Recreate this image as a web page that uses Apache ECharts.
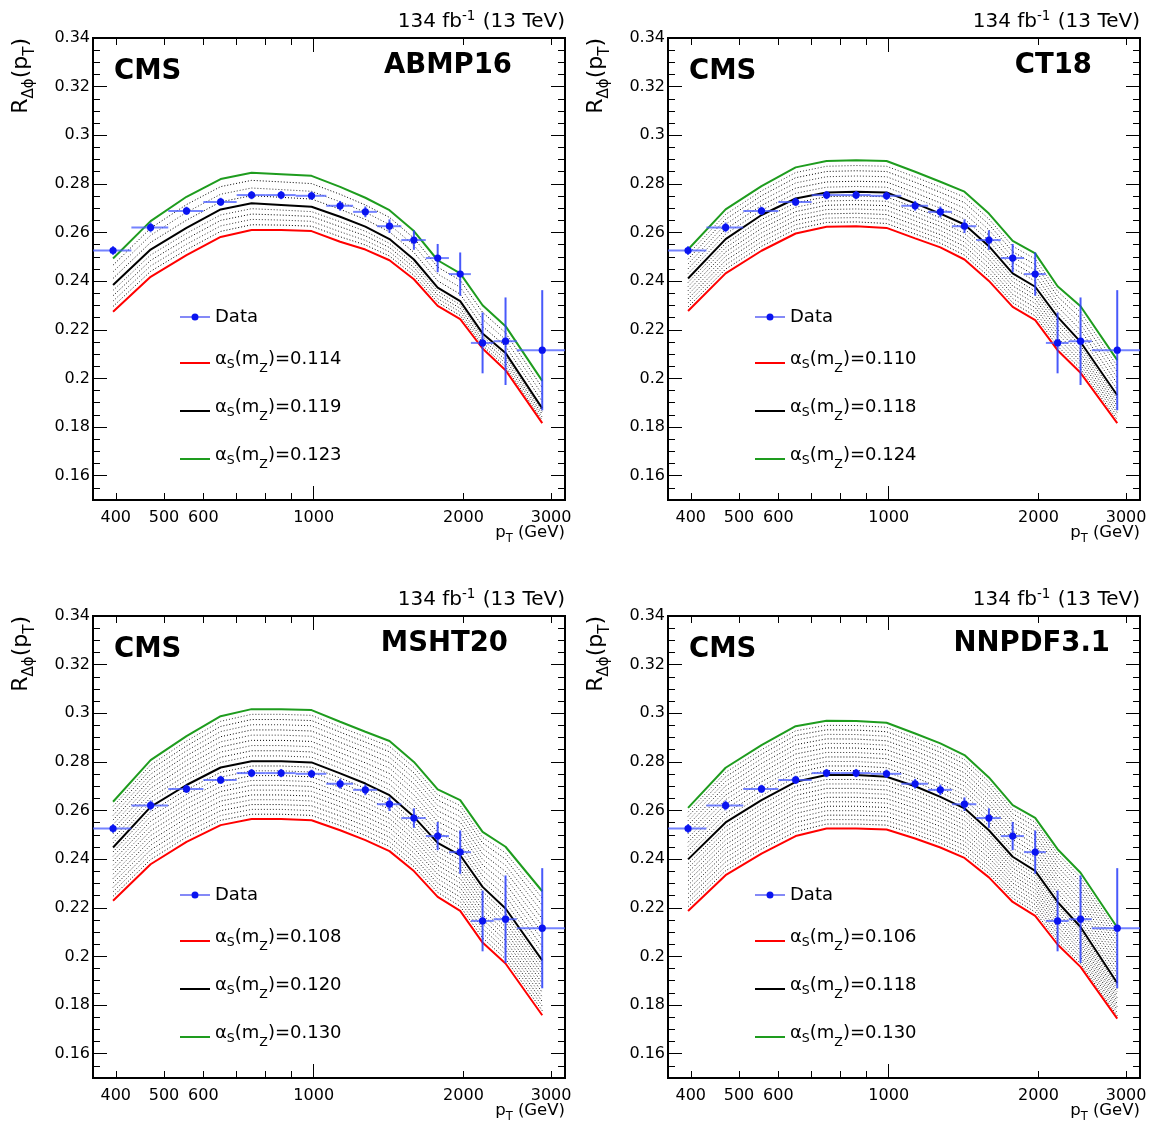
<!DOCTYPE html>
<html><head><meta charset="utf-8">
<script src="https://cdn.jsdelivr.net/npm/echarts@6/dist/echarts.min.js"></script>
<style>html,body{margin:0;padding:0;background:#fff}#c{width:1151px;height:1126px}</style>
</head><body><div id="c"></div><script>
// ---------------- data ----------------
const binCenters = [395, 470, 555, 650, 750, 860, 990, 1130, 1270, 1420, 1590, 1775, 1970, 2185, 2430, 2880];
const binEdges   = [360, 430, 510, 600, 700, 800, 920, 1060, 1200, 1340, 1500, 1680, 1870, 2070, 2300, 2560, 3200];
const dataR   = [0.2526, 0.2621, 0.2689, 0.2726, 0.2754, 0.2754, 0.2751, 0.2710, 0.2685, 0.2626, 0.2569, 0.2495, 0.2429, 0.2146, 0.2153, 0.2116];
const dataErr = [0.0018, 0.0020, 0.0017, 0.0017, 0.0017, 0.0017, 0.0017, 0.0020, 0.0022, 0.0028, 0.0040, 0.0058, 0.0089, 0.0125, 0.0180, 0.0247];

const xMajorTicks = [1000];
const xMinorTicks = [400, 500, 600, 700, 800, 900, 2000, 3000];
const xTickLabels = [400, 500, 600, 1000, 2000, 3000];
const yMajorTicks = [0.16, 0.18, 0.20, 0.22, 0.24, 0.26, 0.28, 0.30, 0.32, 0.34];
const yMinorTicks = [0.155, 0.165, 0.17, 0.175, 0.185, 0.19, 0.195, 0.205, 0.21, 0.215, 0.225, 0.23, 0.235,
                     0.245, 0.25, 0.255, 0.265, 0.27, 0.275, 0.285, 0.29, 0.295, 0.305, 0.31, 0.315, 0.325, 0.33, 0.335];

// ABMP16
const abmpAlphas  = [0.114, 0.119, 0.123];
const abmpLow     = [0.2274, 0.2418, 0.2507, 0.2582, 0.2610, 0.2610, 0.2606, 0.2562, 0.2530, 0.2486, 0.2408, 0.2298, 0.2244, 0.2123, 0.2034, 0.1816];
const abmpCentral = [0.2384, 0.2530, 0.2619, 0.2695, 0.2720, 0.2713, 0.2706, 0.2665, 0.2624, 0.2573, 0.2489, 0.2373, 0.2318, 0.2185, 0.2105, 0.1877];
const abmpHigh    = [0.2493, 0.2647, 0.2747, 0.2820, 0.2846, 0.2840, 0.2833, 0.2788, 0.2743, 0.2692, 0.2606, 0.2486, 0.2432, 0.2301, 0.2215, 0.1990];
const abmpScan    = [0.115, 0.116, 0.117, 0.118, 0.120, 0.121, 0.122];
// CT18
const ct18Alphas  = [0.110, 0.118, 0.124];
const ct18Low     = [0.2277, 0.2432, 0.2525, 0.2596, 0.2624, 0.2626, 0.2619, 0.2576, 0.2539, 0.2489, 0.2401, 0.2294, 0.2240, 0.2116, 0.2023, 0.1816];
const ct18Central = [0.2411, 0.2573, 0.2672, 0.2740, 0.2765, 0.2768, 0.2765, 0.2720, 0.2678, 0.2633, 0.2544, 0.2432, 0.2377, 0.2253, 0.2150, 0.1931];
const ct18High    = [0.2530, 0.2695, 0.2791, 0.2868, 0.2894, 0.2897, 0.2894, 0.2850, 0.2809, 0.2768, 0.2678, 0.2566, 0.2514, 0.2379, 0.2297, 0.2075];
const ct18Scan    = [0.111, 0.112, 0.113, 0.114, 0.115, 0.116, 0.117, 0.119, 0.120, 0.121, 0.122, 0.123];
// MSHT20
const mshtAlphas  = [0.108, 0.120, 0.130];
const mshtLow     = [0.2229, 0.2379, 0.2471, 0.2540, 0.2565, 0.2565, 0.2560, 0.2519, 0.2478, 0.2433, 0.2351, 0.2245, 0.2187, 0.2057, 0.1971, 0.1758];
const mshtCentral = [0.2448, 0.2615, 0.2705, 0.2777, 0.2803, 0.2803, 0.2798, 0.2753, 0.2711, 0.2663, 0.2574, 0.2467, 0.2416, 0.2286, 0.2197, 0.1984];
const mshtHigh    = [0.2636, 0.2807, 0.2906, 0.2988, 0.3017, 0.3017, 0.3013, 0.2965, 0.2924, 0.2886, 0.2800, 0.2687, 0.2643, 0.2512, 0.2451, 0.2268];
const mshtScan    = [0.109, 0.110, 0.111, 0.112, 0.113, 0.114, 0.115, 0.116, 0.117, 0.118, 0.119,
                     0.121, 0.122, 0.123, 0.124, 0.125, 0.126, 0.127, 0.128, 0.129];
// NNPDF3.1
const nnpdfAlphas  = [0.106, 0.118, 0.130];
const nnpdfLow     = [0.2187, 0.2334, 0.2423, 0.2495, 0.2526, 0.2526, 0.2522, 0.2485, 0.2448, 0.2405, 0.2325, 0.2224, 0.2167, 0.2049, 0.1957, 0.1744];
const nnpdfCentral = [0.2399, 0.2551, 0.2643, 0.2718, 0.2746, 0.2746, 0.2739, 0.2700, 0.2656, 0.2609, 0.2519, 0.2410, 0.2352, 0.2224, 0.2121, 0.1891];
const nnpdfHigh    = [0.2611, 0.2776, 0.2869, 0.2947, 0.2969, 0.2968, 0.2961, 0.2917, 0.2876, 0.2828, 0.2736, 0.2622, 0.2570, 0.2441, 0.2344, 0.2119];
const nnpdfScan    = [0.107, 0.108, 0.109, 0.110, 0.111, 0.112, 0.113, 0.114, 0.115, 0.116, 0.117,
                      0.119, 0.120, 0.121, 0.122, 0.123, 0.124, 0.125, 0.126, 0.127, 0.128, 0.129];

const panelNames = ['ABMP16', 'CT18', 'MSHT20', 'NNPDF3.1'];

// ---------------- layout / style ----------------
const FONT = '"DejaVu Sans", "Liberation Sans", Arial, sans-serif';
const panels = [
  {label: panelNames[0], alphas: abmpAlphas, low: abmpLow, central: abmpCentral, high: abmpHigh, scan: abmpScan},
  {label: panelNames[1], alphas: ct18Alphas, low: ct18Low, central: ct18Central, high: ct18High, scan: ct18Scan},
  {label: panelNames[2], alphas: mshtAlphas, low: mshtLow, central: mshtCentral, high: mshtHigh, scan: mshtScan},
  {label: panelNames[3], alphas: nnpdfAlphas, low: nnpdfLow, central: nnpdfCentral, high: nnpdfHigh, scan: nnpdfScan}
];
const boxes = [
  {left: 93, top: 38, nameRight: 512},
  {left: 668, top: 38, nameRight: 1092},
  {left: 93, top: 616, nameRight: 508},
  {left: 668, top: 616, nameRight: 1110}
];
const W = 472, H = 462;
const RED = '#ff0000', BLACK = '#000000', GREEN = '#1e9c1e';

const alphaName = a => 'α_S(m_Z)=' + a.toFixed(3);

// intermediate alpha_s curves (dotted) placed between the read neighbouring curves
function scanCurve(p, a) {
  const [aL, aC, aH] = p.alphas;
  return binCenters.map((x, i) => {
    let v;
    if (a <= aC) v = p.low[i] + (a - aL) / (aC - aL) * (p.central[i] - p.low[i]);
    else v = p.central[i] + (a - aC) / (aH - aC) * (p.high[i] - p.central[i]);
    return [x, v];
  });
}

const grid = [], xAxis = [], yAxis = [], series = [], legend = [], graphics = [];
const tickStyle = {color: '#000', width: 1};

panels.forEach((p, pi) => {
  const b = boxes[pi];
  grid.push({left: b.left, top: b.top, width: W, height: H, show: true, borderColor: '#000', borderWidth: 2,
             backgroundColor: 'transparent', containLabel: false, outerBoundsMode: 'none'});
  const xBase = {type: 'log', logBase: 10, min: 360, max: 3200, gridIndex: pi,
                 axisLine: {show: false}, splitLine: {show: false}, minorTick: {show: false}, minorSplitLine: {show: false}};
  xAxis.push(Object.assign({}, xBase, {position: 'bottom',
    axisTick: {show: true, inside: true, length: 7, customValues: xMinorTicks, lineStyle: tickStyle},
    axisLabel: {show: true, customValues: xTickLabels, margin: 10, fontSize: 16, color: '#000', fontFamily: FONT,
                formatter: v => String(Math.round(v))}}));
  xAxis.push(Object.assign({}, xBase, {position: 'bottom',
    axisTick: {show: true, inside: true, length: 14, customValues: xMajorTicks, lineStyle: tickStyle},
    axisLabel: {show: false}}));
  xAxis.push(Object.assign({}, xBase, {position: 'top',
    axisTick: {show: true, inside: true, length: 7, customValues: xMinorTicks, lineStyle: tickStyle},
    axisLabel: {show: false}}));
  xAxis.push(Object.assign({}, xBase, {position: 'top',
    axisTick: {show: true, inside: true, length: 14, customValues: xMajorTicks, lineStyle: tickStyle},
    axisLabel: {show: false}}));

  const yBase = {type: 'value', min: 0.15, max: 0.34, gridIndex: pi, axisLine: {show: false}, splitLine: {show: false}};
  yAxis.push(Object.assign({}, yBase, {position: 'left',
    axisTick: {show: true, inside: true, length: 14, customValues: yMajorTicks, lineStyle: tickStyle},
    axisLabel: {show: true, customValues: yMajorTicks, margin: 3, fontSize: 16, color: '#000', fontFamily: FONT,
                formatter: v => String(+(+v).toFixed(2))}}));
  yAxis.push(Object.assign({}, yBase, {position: 'left',
    axisTick: {show: true, inside: true, length: 7, customValues: yMinorTicks, lineStyle: tickStyle},
    axisLabel: {show: false}}));
  yAxis.push(Object.assign({}, yBase, {position: 'right',
    axisTick: {show: true, inside: true, length: 14, customValues: yMajorTicks, lineStyle: tickStyle},
    axisLabel: {show: false}}));
  yAxis.push(Object.assign({}, yBase, {position: 'right',
    axisTick: {show: true, inside: true, length: 7, customValues: yMinorTicks, lineStyle: tickStyle},
    axisLabel: {show: false}}));

  const xi = pi * 4, yi = pi * 4;
  // dotted scan curves
  p.scan.forEach((a, k) => {
    series.push({type: 'line', name: 'scan ' + p.label + ' ' + a.toFixed(3), xAxisIndex: xi, yAxisIndex: yi,
      data: scanCurve(p, a), showSymbol: false, silent: true, z: 2,
      lineStyle: {color: k % 2 ? '#333' : '#000', width: 1, type: [1, 2]}});
  });
  const cols = [RED, BLACK, GREEN];
  [p.low, p.central, p.high].forEach((arr, k) => {
    series.push({type: 'line', name: alphaName(p.alphas[k]), xAxisIndex: xi, yAxisIndex: yi, color: cols[k],
      data: binCenters.map((x, i) => [x, arr[i]]), showSymbol: false, silent: true, z: 3,
      lineStyle: {color: cols[k], width: 2}});
  });
  // data with error bars
  series.push({type: 'custom', name: 'Data', xAxisIndex: xi, yAxisIndex: yi, z: 5, clip: true,
    itemStyle: {color: '#0a14f0'},
    encode: {x: 0, y: 1},
    data: binCenters.map((x, i) => [x, dataR[i], binEdges[i], binEdges[i + 1], dataErr[i]]),
    renderItem: (params, api) => {
      const x = api.value(0), y = api.value(1), lo = api.value(2), hi = api.value(3), e = api.value(4);
      const c = api.coord([x, y]), l = api.coord([lo, y]), r = api.coord([hi, y]);
      const t = api.coord([x, y + e]), bt = api.coord([x, y - e]);
      return {type: 'group', children: [
        {type: 'line', shape: {x1: l[0], y1: l[1], x2: r[0], y2: r[1]}, style: {stroke: 'rgba(70,90,255,0.75)', lineWidth: 2}},
        {type: 'line', shape: {x1: t[0], y1: t[1], x2: bt[0], y2: bt[1]}, style: {stroke: 'rgba(40,60,250,0.85)', lineWidth: 2}},
        {type: 'circle', shape: {cx: c[0], cy: c[1], r: 3.6}, style: {fill: '#0a14f0'}}
      ]};
    }});

  // legends
  const lx = b.left + 87, dy = b.top - 38;
  const legText = {color: '#000', fontSize: 18, fontFamily: FONT, lineHeight: 24,
    rich: {
      d: {fontSize: 18, fontFamily: FONT, color: '#000'},
      a: {fontSize: 18, fontFamily: FONT, color: '#000', padding: [0, 0, 8, 0]},
      s: {fontSize: 12.5, fontFamily: FONT, color: '#000', padding: [4, 0, 0, 0]},
      z: {fontSize: 12.5, fontFamily: FONT, color: '#000', padding: [12, 0, 0, 0]}
    }};
  const fmt = name => {
    if (name === 'Data') return '{d|Data}';
    const v = name.split('=')[1];
    return '{a|α}{s|S}{a|(m}{z|Z}{a|)=' + v + '}';
  };
  legend.push({orient: 'vertical', left: lx, top: 305 + dy, padding: 0, itemWidth: 30, itemHeight: 7, itemGap: 24,
    selectedMode: false, textStyle: legText, formatter: fmt,
    data: [{name: 'Data', icon: 'path://M0,3h30v1h-30z M11.5,3.5a3.5,3.5 0 1,1 7,0a3.5,3.5 0 1,1 -7,0z'}]});
  legend.push({orient: 'vertical', left: lx, top: 350 + dy, padding: 0, itemWidth: 30, itemHeight: 2, itemGap: 22.5,
    selectedMode: false, textStyle: legText, formatter: fmt,
    data: p.alphas.map(a => ({name: alphaName(a), icon: 'path://M0,0h30v2h-30z'}))});

  // texts
  graphics.push({type: 'text', x: b.left + W, y: b.top - 16, z: 10, style: {
    text: '{n|134 fb}{u|-1}{n| (13 TeV)}', align: 'right', verticalAlign: 'middle', lineHeight: 26,
    rich: {n: {fontSize: 20, fontFamily: FONT, fill: '#000'},
           u: {fontSize: 13.5, fontFamily: FONT, fill: '#000', padding: [0, 1, 12, 0]}}}});
  graphics.push({type: 'text', x: b.left + 21, y: b.top + 34, z: 10, style: {
    text: 'CMS', fontSize: 27.5, fontWeight: 'bold', fontFamily: FONT, fill: '#000', align: 'left', verticalAlign: 'middle'}});
  graphics.push({type: 'text', x: b.nameRight, y: b.top + 27.5, z: 10, style: {
    text: p.label, fontSize: 27.5, fontWeight: 'bold', fontFamily: FONT, fill: '#000', align: 'right', verticalAlign: 'middle'}});
  graphics.push({type: 'text', x: b.left - 72, y: b.top, rotation: Math.PI / 2, z: 10, style: {
    text: '{m|R}{s|Δϕ}{m|(p}{t|T}{m|)}', align: 'right', verticalAlign: 'middle', lineHeight: 28,
    rich: {m: {fontSize: 22, fontFamily: FONT, fill: '#000'},
           s: {fontSize: 15, fontFamily: FONT, fill: '#000', padding: [16, 0, 0, 0]},
           t: {fontSize: 15, fontFamily: FONT, fill: '#000', padding: [18, 0, 0, 0]}}}});
  graphics.push({type: 'text', x: b.left + W, y: b.top + H + 33, z: 10, style: {
    text: '{m|p}{t|T}{m| (GeV)}', align: 'right', verticalAlign: 'middle', lineHeight: 26,
    rich: {m: {fontSize: 16.5, fontFamily: FONT, fill: '#000'},
           t: {fontSize: 11.5, fontFamily: FONT, fill: '#000', padding: [12, 0, 0, 0]}}}});
});

const chart = echarts.init(document.getElementById('c'), null, {renderer: 'canvas'});
chart.setOption({
  animation: false,
  backgroundColor: '#fff',
  grid, xAxis, yAxis, series, legend,
  graphic: {elements: graphics}
});
</script></body></html>
